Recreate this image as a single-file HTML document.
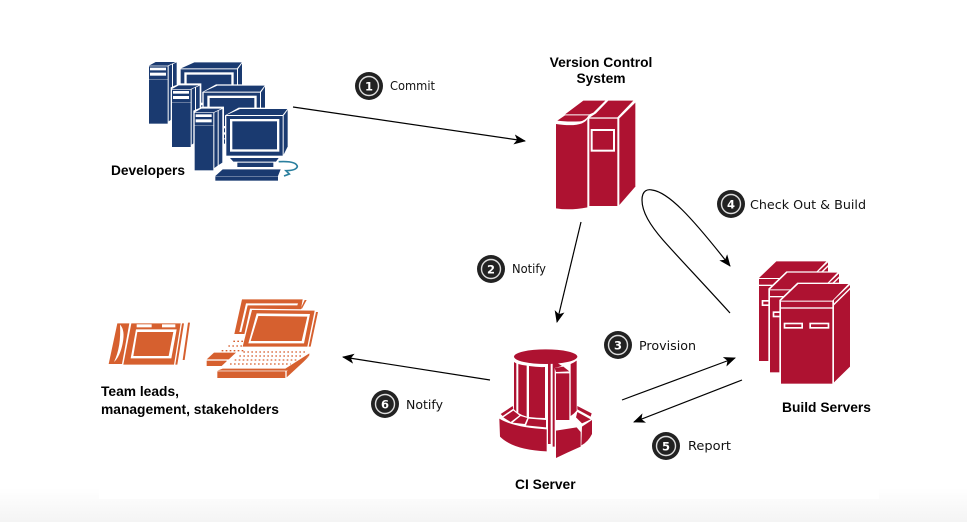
<!DOCTYPE html>
<html><head><meta charset="utf-8"><style>
html,body{margin:0;padding:0;background:#fff}
svg{display:block}
.b{font:bold 13.8px "Liberation Sans",sans-serif;fill:#000}
.l{font:12px "DejaVu Sans",sans-serif;fill:#111}
.n{font:bold 11.5px "DejaVu Sans",sans-serif;fill:#fff;text-anchor:middle}
</style></head><body>
<svg width="967" height="522" viewBox="0 0 967 522" xmlns="http://www.w3.org/2000/svg">
<defs>
<linearGradient id="g" x1="0" y1="0" x2="0" y2="1"><stop offset="0" stop-color="#fff"/><stop offset="1" stop-color="#f4f4f4"/></linearGradient>
<marker id="a" markerWidth="12" markerHeight="10" refX="11" refY="5" orient="auto" markerUnits="userSpaceOnUse"><path d="M0,0 L12,5 L0,10 L3,5Z" fill="#000"/></marker>
<g id="pc">
<path d="M190,182 L218,170 L282,170 L282,356 L254,366 L190,366Z" fill="#fff"/>
<path d="M194,187 L214,176 L274,176 L250,187Z" fill="#1a3a70"/>
<rect x="194" y="189" width="56" height="38" fill="#1a3a70"/>
<rect x="197" y="193" width="48" height="8" fill="#fff"/><rect x="197" y="208" width="48" height="9" fill="#fff"/>
<rect x="194" y="228" width="56" height="133" fill="#1a3a70"/>
<path d="M253,188 L263,183 L263,347 L253,354Z" fill="#1a3a70"/>
<path d="M266,182 L277,177 L277,338 L266,345Z" fill="#1a3a70"/>
<path d="M285,196 L326,173 L476,173 L476,292 L458,320 L285,320Z" fill="#fff"/>
<path d="M290,195 L330,177 L472,177 L458,195Z" fill="#1a3a70"/>
<rect x="289" y="198" width="169" height="119" fill="#1a3a70"/>
<rect x="300" y="207" width="148" height="98" fill="#fff"/>
<rect x="307" y="214" width="134" height="84" fill="#1a3a70"/>
<path d="M461,197 L473,180 L473,290 L461,314Z" fill="#1a3a70"/>
<path d="M300,324 L446,324 L438,335 L310,335Z" fill="#1a3a70"/>
<rect x="322" y="338" width="108" height="13" fill="#1a3a70"/>
</g>
<g id="srv">
<path d="M118,150 L172,98 L334,98 L334,352 L282,404 L118,404Z" fill="#fff"/>
<path d="M123,152 L175,102 L325,102 L277,152Z" fill="#ae1231"/>
<rect x="123" y="155" width="154" height="17" fill="#ae1231"/>
<rect x="123" y="176" width="154" height="225" fill="#ae1231"/>
<rect x="131" y="218" width="58" height="18" fill="#fff"/><rect x="136" y="223" width="48" height="8" fill="#ae1231"/>
<rect x="208" y="218" width="60" height="18" fill="#fff"/><rect x="213" y="223" width="50" height="8" fill="#ae1231"/>
<path d="M282,150 L330,105 L330,113 L282,160Z" fill="#ae1231"/>
<path d="M282,166 L330,119 L330,350 L282,397Z" fill="#ae1231"/>
</g>
</defs>
<rect width="967" height="522" fill="#fff"/>
<rect y="488" width="967" height="34" fill="url(#g)"/>
<rect x="99" y="480" width="780" height="19" fill="#fff"/>

<!-- developers -->
<g transform="translate(130,50) scale(.33333)">
<use href="#pc" transform="translate(-137,-140)"/>
<use href="#pc" transform="translate(-68,-70)"/>
<use href="#pc"/>
<path d="M278,358 L452,358 L444,378 L256,378Z" fill="#1a3a70"/>
<rect x="256" y="379" width="188" height="13" fill="#1a3a70"/>
<path d="M446,335 Q500,332 502,350 Q498,362 468,362 L478,372 L462,378" fill="none" stroke="#2a7f9e" stroke-width="5"/>
</g>
<text class="b" x="111" y="175" textLength="74" lengthAdjust="spacingAndGlyphs">Developers</text>

<!-- VCS -->
<g transform="translate(530,80) scale(.33333)" fill="#ae1231">
<path d="M105,103 L160,62 L226,62 L190,98 L178,103Z"/>
<path d="M198,100 L235,62 L310,62 L262,112 L180,112 Z"/>
<path d="M82,122 L105,106 L176,106 Q166,122 150,124 Q110,126 82,122Z"/>
<path d="M78,132 Q130,140 156,130 Q170,124 172,116 L172,382 Q120,392 78,385Z"/>
<rect x="178" y="116" width="84" height="262"/>
<rect x="185" y="150" width="67" height="62" fill="#ae1231" stroke="#fff" stroke-width="6"/>
<path d="M268,115 L316,68 L316,320 L268,375Z"/>
</g>
<text class="b" x="601" y="67" text-anchor="middle">Version Control</text>
<text class="b" x="601" y="83" text-anchor="middle">System</text>

<!-- build servers -->
<g transform="translate(740,250) scale(.33333)">
<use href="#srv" transform="translate(-66,-68)"/>
<use href="#srv" transform="translate(-33,-34)"/>
<use href="#srv"/>
</g>
<text class="b" x="782" y="412">Build Servers</text>

<!-- CI server -->
<g transform="translate(480,340) scale(.33333)" fill="#ae1231">
<path d="M62,222 L98,198 L100,206 L68,228Z"/>
<path d="M292,198 L335,220 L332,230 L292,208Z"/>
<path d="M70,232 L100,212 L118,226 L92,246Z"/>
<path d="M122,228 L142,234 L134,252 L98,248Z"/>
<path d="M146,236 L198,240 L198,262 L138,256Z"/>
<path d="M292,216 L332,238 L306,250 L288,232Z"/>
<path d="M58,236 Q100,262 200,268 L200,334 Q100,330 60,290Z"/>
<path d="M228,272 L290,262 L302,276 L302,320 L262,338 L228,354Z"/>
<path d="M306,260 L336,240 L336,282 Q325,305 304,316Z"/>
<ellipse cx="197" cy="50" rx="95" ry="22"/>
<path d="M102,66 L109,70 L109,215 L102,208Z"/>
<path d="M115,72 Q128,76 140,77 L140,230 Q126,226 115,219Z"/>
<path d="M147,78 Q172,82 195,81 L195,234 Q170,234 147,231Z"/>
<path d="M272,72 Q282,68 290,62 L290,212 Q282,222 272,228Z"/>
<path d="M228,100 L268,100 L268,240 L228,240Z"/>
<path d="M224,84 L250,80 L268,94 L228,96Z"/>
<path d="M204,60 L212,60 L212,312 L204,312Z"/>
<path d="M218,60 L246,78 L224,84 L224,320 L218,320Z"/>
</g>
<text class="b" x="515" y="489">CI Server</text>

<!-- team -->
<g transform="translate(100,290) scale(.33333)" fill="#d6602f">
<path d="M52,100 L88,100 L66,222 L26,222Z"/>
<path d="M60,104 Q76,120 68,160 Q60,200 42,216 Q64,170 60,104Z" fill="#fff"/>
<path d="M94,100 L242,100 L222,224 L70,224Z"/>
<rect x="110" y="103" width="45" height="9" fill="#fff"/><rect x="186" y="103" width="40" height="9" fill="#fff"/>
<path d="M108,118 L230,118 L214,205 L92,205Z" fill="#fff"/>
<path d="M112,126 L220,126 L206,198 L100,198Z"/>
<path d="M246,100 L252,100 L232,224 L226,224Z"/>
<path d="M264,98 L270,98 L254,210 L248,210Z"/>
<path d="M426,28 L608,28 L590,132 L403,132Z"/>
<path d="M438,40 L594,40 L592,46 L443,46 L424,126 L418,126Z" fill="#fff"/>
<path d="M614,30 L620,30 L606,56 L602,56Z"/>
<path d="M450,56 L650,58 L626,174 L424,174Z" fill="#fff"/>
<path d="M456,60 L644,62 L622,170 L428,170Z"/>
<path d="M470,70 L630,72 L612,160 L445,160Z" fill="#fff"/>
<path d="M475,78 L622,80 L605,153 L452,153Z"/>
<path d="M648,66 L654,66 L632,170 L626,170Z"/>
<path d="M342,188 L418,188 L396,208 L320,208Z"/>
<rect x="320" y="212" width="60" height="16"/>
<path d="M410,186 L622,186 L556,240 L352,240Z" fill="#fff"/>
<path d="M368,236 L556,236 L628,190 L628,196 L576,242 L352,242Z"/>
<rect x="352" y="244" width="204" height="20"/>
<path d="M560,262 L560,244 L628,198 L610,216Z"/>
<g fill="none" stroke="#d6602f" stroke-width="4" stroke-dasharray="5 7">
<path d="M400,154 H432"/><path d="M385,168 H430"/><path d="M365,182 H430"/>
<path d="M430,186 H622"/><path d="M418,198 H606"/><path d="M404,210 H590"/><path d="M390,222 H572"/>
</g>
</g>
<text class="b" x="101" y="396">Team leads,</text>
<text class="b" x="101" y="414">management, stakeholders</text>

<!-- connectors -->
<g fill="none" stroke="#000" stroke-width="1.2" marker-end="url(#a)">
<path d="M293,107 L525,141"/>
<path d="M581,222 L557,322"/>
<path d="M622,400 L735,358"/>
<path d="M742,380 L634,422"/>
<path d="M490,380 L343,357"/>
<path d="M730,313 C700,280 678,257 663,240 C650,225 642,212 642,200 C642,190 648,189 652,190 C668,192 690,215 730,266"/>
</g>

<!-- badges -->
<g>
<g fill="#222" stroke="none">
<circle cx="369" cy="86" r="14"/><circle cx="491" cy="269" r="14"/><circle cx="618" cy="345" r="14"/>
<circle cx="731" cy="204" r="14"/><circle cx="666" cy="446" r="14"/><circle cx="385" cy="404" r="14"/>
</g>
<g fill="none" stroke="#ddd" stroke-width="1.4">
<circle cx="369" cy="86" r="9.5"/><circle cx="491" cy="269" r="9.5"/><circle cx="618" cy="345" r="9.5"/>
<circle cx="731" cy="204" r="9.5"/><circle cx="666" cy="446" r="9.5"/><circle cx="385" cy="404" r="9.5"/>
</g>
<text class="n" x="369" y="90.300">1</text><text class="n" x="491" y="273.300">2</text><text class="n" x="618" y="349.300">3</text>
<text class="n" x="731" y="208.300">4</text><text class="n" x="666" y="450.300">5</text><text class="n" x="385" y="408.300">6</text>
</g>
<text class="l" x="390" y="90" textLength="45" lengthAdjust="spacingAndGlyphs">Commit</text>
<text class="l" x="512" y="273" textLength="34" lengthAdjust="spacingAndGlyphs">Notify</text>
<text class="l" x="639" y="350" textLength="57" lengthAdjust="spacingAndGlyphs">Provision</text>
<text class="l" x="750" y="209" textLength="116" lengthAdjust="spacingAndGlyphs">Check Out &amp; Build</text>
<text class="l" x="688" y="450" textLength="43" lengthAdjust="spacingAndGlyphs">Report</text>
<text class="l" x="406" y="409" textLength="37" lengthAdjust="spacingAndGlyphs">Notify</text>
</svg>
</body></html>
